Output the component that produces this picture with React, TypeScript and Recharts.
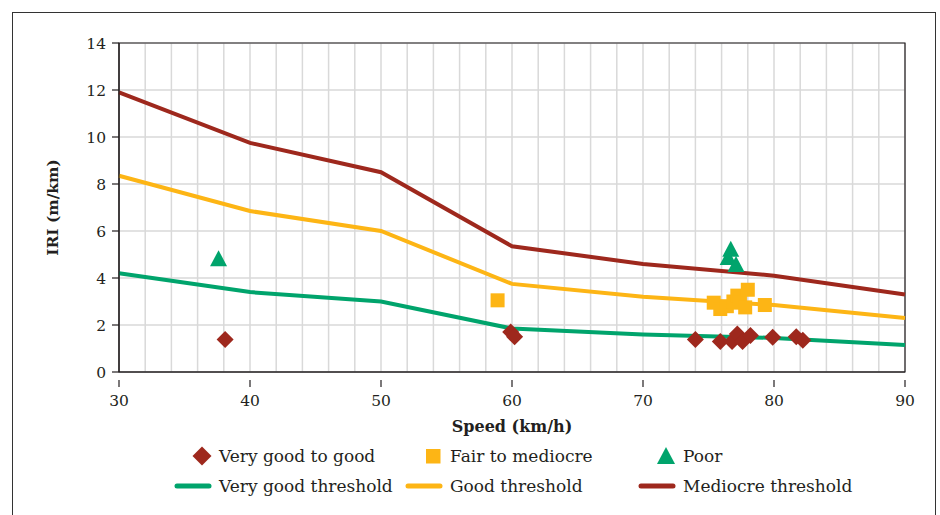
import React from "react";
import {
  ComposedChart,
  Line,
  Scatter,
  XAxis,
  YAxis,
  CartesianGrid,
  ReferenceArea,
} from "recharts";

// threshold curves
const speeds = [30, 40, 50, 60, 70, 80, 90];
const veryGoodThreshold = [4.2, 3.4, 3.0, 1.85, 1.6, 1.45, 1.15];
const goodThreshold = [8.35, 6.85, 6.0, 3.75, 3.2, 2.85, 2.3];
const mediocreThreshold = [11.9, 9.75, 8.5, 5.35, 4.6, 4.1, 3.3];

// measured sections
const veryGoodSpeed = [38.1, 59.9, 60.2, 74.0, 75.9, 76.8, 77.2, 77.6, 78.2, 79.9, 81.7, 82.2];
const veryGoodIri = [1.38, 1.7, 1.5, 1.38, 1.3, 1.3, 1.62, 1.3, 1.55, 1.48, 1.5, 1.35];
const fairSpeed = [58.9, 75.4, 75.9, 76.4, 76.9, 77.2, 77.4, 77.8, 78.0, 79.3];
const fairIri = [3.05, 2.95, 2.68, 2.8, 3.0, 3.25, 2.95, 2.75, 3.5, 2.85];
const poorSpeed = [37.6, 76.5, 76.7, 77.1];
const poorIri = [4.8, 4.85, 5.2, 4.55];

const xTicks = [30, 32, 34, 36, 38, 40, 42, 44, 46, 48, 50, 52, 54, 56, 58, 60, 62, 64, 66, 68, 70, 72, 74, 76, 78, 80, 82, 84, 86, 88, 90];
const yTicks = [0, 2, 4, 6, 8, 10, 12, 14];

const RED = "#9E281D";
const YELLOW = "#FDB515";
const GREEN = "#00A46C";
const FONT = "'DejaVu Serif', serif";
const INK = "#231F20";

const toLine = (ys: number[]) => speeds.map((x, i) => ({ x, y: ys[i] }));
const toPts = (xs: number[], ys: number[]) => xs.map((x, i) => ({ x, y: ys[i] }));

const Diamond = (p: any) => {
  const { cx, cy } = p;
  const r = 8.5;
  return <path d={`M${cx},${cy - r}L${cx + r},${cy}L${cx},${cy + r}L${cx - r},${cy}Z`} fill={RED} />;
};
const Square = (p: any) => {
  const { cx, cy } = p;
  return <rect x={cx - 7} y={cy - 7} width={14} height={14} fill={YELLOW} />;
};
const Triangle = (p: any) => {
  const { cx, cy } = p;
  return <path d={`M${cx},${cy - 9}L${cx + 8.5},${cy + 7}L${cx - 8.5},${cy + 7}Z`} fill={GREEN} />;
};

const XTick = (p: any) => {
  const { x, y, payload } = p;
  if (payload.value % 10 !== 0) return <g />;
  return (
    <g>
      <line x1={x} x2={x} y1={y} y2={y + 7} stroke={INK} strokeWidth={1.2} />
      <text x={x} y={y + 26} textAnchor="middle" style={{ fontFamily: FONT, fontSize: 15.5 }} fill={INK}>
        {payload.value}
      </text>
    </g>
  );
};

const legendRows = [
  [
    { label: "Very good to good", kind: "diamond", color: RED, left: 174 },
    { label: "Fair to mediocre", kind: "square", color: YELLOW, left: 405 },
    { label: "Poor", kind: "triangle", color: GREEN, left: 638 },
  ],
  [
    { label: "Very good threshold", kind: "line", color: GREEN, left: 174 },
    { label: "Good threshold", kind: "line", color: YELLOW, left: 405 },
    { label: "Mediocre threshold", kind: "line", color: RED, left: 638 },
  ],
];

const LegendIcon = ({ kind, color }: { kind: string; color: string }) => (
  <svg width={40} height={22} style={{ display: "block" }}>
    {kind === "line" && <line x1={3} x2={35} y1={11} y2={11} stroke={color} strokeWidth={5} strokeLinecap="round" />}
    {kind === "diamond" && <path d="M28,1.5L37.5,11L28,20.5L18.5,11Z" fill={color} />}
    {kind === "square" && <rect x={21} y={4} width={14.5} height={14.5} fill={color} />}
    {kind === "triangle" && <path d="M28,2L37,19L19,19Z" fill={color} />}
  </svg>
);

export default function App() {
  return (
    <div style={{ position: "absolute", left: 0, top: 0, width: 940, height: 515, overflow: "hidden", background: "#fff" }}>
      <div
        style={{
          position: "absolute",
          left: 12,
          top: 12,
          width: 922,
          height: 520,
          border: "1.5px solid #333",
        }}
      />
      <div style={{ position: "absolute", left: 0, top: 0 }}>
        <ComposedChart width={940} height={515} margin={{ top: 43, right: 35, left: 29, bottom: 79 }}>
          <CartesianGrid stroke="#D9D9D9" strokeWidth={1.5} />
          <XAxis
            type="number"
            dataKey="x"
            domain={[30, 90]}
            ticks={xTicks}
            interval={0}
            tick={<XTick />}
            tickLine={false}
            axisLine={{ stroke: INK, strokeWidth: 1.2 }}
            height={64}
            label={{
              value: "Speed (km/h)",
              position: "insideBottom",
              offset: 4,
              style: { fontFamily: FONT, fontSize: 16, fontWeight: "bold", fill: INK },
            }}
          />
          <YAxis
            type="number"
            dataKey="y"
            domain={[0, 14]}
            ticks={yTicks}
            interval={0}
            width={90}
            tickSize={7}
            tickMargin={6}
            tickLine={{ stroke: INK, strokeWidth: 1.2 }}
            axisLine={{ stroke: INK, strokeWidth: 1.2 }}
            tick={{ fontFamily: FONT, fontSize: 15.5, fill: INK }}
            label={{
              value: "IRI (m/km)",
              angle: -90,
              position: "insideLeft",
              offset: 23,
              style: { textAnchor: "middle", fontFamily: FONT, fontSize: 15.5, fontWeight: "bold", fill: INK },
            }}
          />
          <ReferenceArea x1={30} x2={90} y1={0} y2={14} fill="none" stroke={INK} strokeWidth={1.2} />
          <Line data={toLine(veryGoodThreshold)} dataKey="y" stroke={GREEN} strokeWidth={4} dot={false} isAnimationActive={false} />
          <Line data={toLine(goodThreshold)} dataKey="y" stroke={YELLOW} strokeWidth={4} dot={false} isAnimationActive={false} />
          <Line data={toLine(mediocreThreshold)} dataKey="y" stroke={RED} strokeWidth={4} dot={false} isAnimationActive={false} />
          <Scatter data={toPts(veryGoodSpeed, veryGoodIri)} shape={Diamond} isAnimationActive={false} />
          <Scatter data={toPts(fairSpeed, fairIri)} shape={Square} isAnimationActive={false} />
          <Scatter data={toPts(poorSpeed, poorIri)} shape={Triangle} isAnimationActive={false} />
        </ComposedChart>
      </div>
      {legendRows.map((row, ri) =>
        row.map((item) => (
          <div
            key={item.label}
            style={{
              position: "absolute",
              left: item.left,
              top: 445 + ri * 30,
              display: "flex",
              alignItems: "center",
              fontFamily: FONT,
              fontSize: 17,
              color: INK,
              whiteSpace: "nowrap",
            }}
          >
            <LegendIcon kind={item.kind} color={item.color} />
            <span style={{ marginLeft: 5 }}>{item.label}</span>
          </div>
        ))
      )}
    </div>
  );
}
